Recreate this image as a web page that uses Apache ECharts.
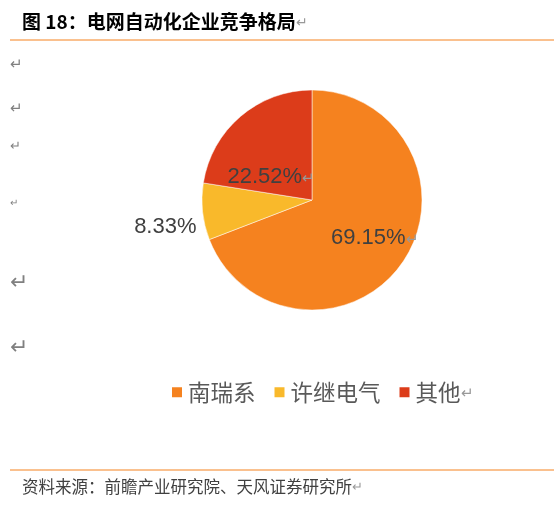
<!DOCTYPE html>
<html>
<head>
<meta charset="utf-8">
<script src="https://cdn.jsdelivr.net/npm/echarts@6/dist/echarts.min.js"></script>
<style>
  html, body { margin: 0; padding: 0; background: #fff; }
  #main { width: 554px; height: 509px; }
</style>
</head>
<body>
<div id="main"></div>
<script>
// 数据
var names = ['南瑞系', '许继电气', '其他'];
var values = [69.15, 8.33, 22.52];
var colors = ['#F5821F', '#F9B92B', '#DC3C1A'];
// 标签偏移（Excel 里标签被手动拖动过）
var labelOffsets = [[15, 5], [-89, 21], [-3, 21]];
var returnMark = [true, false, true];

var cjk = '"Noto Sans CJK SC", sans-serif';
var latin = '"Liberation Sans", Arial, sans-serif';

var pieData = names.map(function (n, i) {
  return {
    name: n,
    value: values[i],
    itemStyle: { color: colors[i] },
    label: { offset: labelOffsets[i] }
  };
});

// 左边那些段落标记
var marks = [
  { y: 63, s: 15 }, { y: 107, s: 15 }, { y: 145, s: 13 },
  { y: 202, s: 10 }, { y: 281, s: 22 }, { y: 346, s: 22 }
];

var chart = echarts.init(document.getElementById('main'));
var option = {
  backgroundColor: '#ffffff',
  animation: false,
  legend: {
    left: 165,
    top: 376,
    icon: 'rect',
    itemWidth: 12,
    itemHeight: 12,
    itemGap: 17,
    data: names,
    formatter: function (n) {
      return n === '其他' ? n + '{m|↵}' : n;
    },
    textStyle: {
      fontFamily: cjk,
      fontSize: 22.5,
      color: '#595959',
      rich: { m: { fontSize: 15, color: '#999', fontFamily: cjk } }
    }
  },
  series: [{
    type: 'pie',
    center: [312, 200],
    radius: [0, 110],
    startAngle: 90,
    clockwise: true,
    silent: true,
    itemStyle: { borderColor: '#ffffff', borderWidth: 0.5 },
    label: {
      show: true,
      position: 'inside',
      fontFamily: latin,
      fontSize: 22,
      color: '#404040',
      formatter: function (p) {
        return p.value.toFixed(2) + '%' + (returnMark[p.dataIndex] ? '{m|↵}' : '');
      },
      rich: { m: { fontSize: 15, color: '#999', fontFamily: cjk } }
    },
    labelLine: { show: false },
    data: pieData
  }],
  graphic: [
    {
      type: 'text', left: 22, top: 12,
      style: {
        text: '图 18：电网自动化企业竞争格局{m|↵}',
        fontFamily: cjk, fontSize: 19, fontWeight: 'bold', fill: '#000',
        rich: { m: { fontSize: 14, fontWeight: 'normal', fill: '#999', fontFamily: cjk } }
      }
    },
    {
      type: 'line',
      shape: { x1: 10, y1: 40, x2: 554, y2: 40 },
      style: { stroke: '#F5821F', lineWidth: 1 }
    },
    {
      type: 'line',
      shape: { x1: 10, y1: 470, x2: 554, y2: 470 },
      style: { stroke: '#F5821F', lineWidth: 1 }
    },
    {
      type: 'text', left: 22, top: 478,
      style: {
        text: '资料来源：前瞻产业研究院、天风证券研究所{m|↵}',
        fontFamily: cjk, fontSize: 16.5, fill: '#404040',
        rich: { m: { fontSize: 13, fill: '#999', fontFamily: cjk } }
      }
    }
  ].concat(marks.map(function (m) {
    return {
      type: 'text', left: 10, top: m.y - m.s / 2,
      style: { text: '↵', fontFamily: cjk, fontSize: m.s, fill: '#808080' }
    };
  }))
};
chart.setOption(option);
</script>
</body>
</html>
